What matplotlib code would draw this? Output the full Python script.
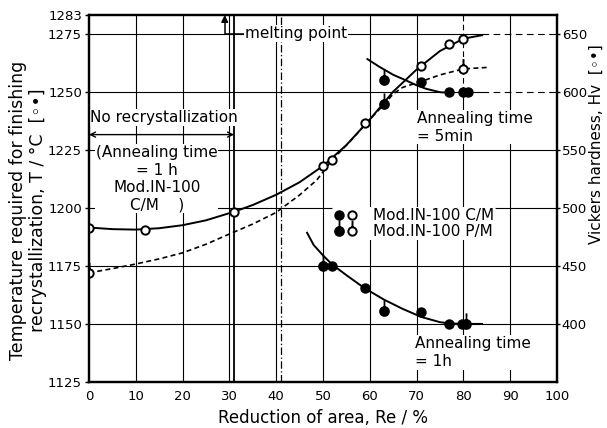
import matplotlib
matplotlib.use("Agg")
import matplotlib.pyplot as plt
import numpy as np
from matplotlib.path import Path
from matplotlib.lines import Line2D
from matplotlib.legend_handler import HandlerTuple

plt.rcParams['font.family'] = ['DejaVu Sans']

# ---------------- data ----------------
x_ticks = [0, 10, 20, 30, 40, 50, 60, 70, 80, 90, 100]
t_ticks = [1125, 1150, 1175, 1200, 1225, 1250, 1275, 1283]
hv_ticks = [400, 450, 500, 550, 600, 650]
x_grid = [10, 20, 30, 40, 50, 60, 70, 80, 90]
t_grid = [1150, 1175, 1200, 1225, 1250, 1275]

# recrystallization temperature, C/M (open circles, solid curve)
temp_cm_x = [0, 12, 31, 50, 52, 59, 71, 77, 80]
temp_cm_T = [1191.5, 1190.5, 1198.3, 1218, 1220.7, 1236.6, 1261, 1270.7, 1272.8]
curve_cm_x = [0, 5, 10, 15, 20, 25, 31, 35, 40, 45, 50, 55, 60, 65, 70, 75, 80, 84]
curve_cm_T = [1191.5, 1190.8, 1190.6, 1191.2, 1192.5, 1194.6, 1198.3, 1201.2, 1205.6,
              1211, 1218, 1227, 1238, 1250, 1259.5, 1267.5, 1272.8, 1274.3]

# recrystallization temperature, P/M (open circles with stem, dashed curve)
temp_pm_x = [0, 80]
temp_pm_T = [1172, 1259.8]
curve_pm_x = [0, 5, 10, 15, 20, 25, 30, 35, 40, 45, 48.7, 52, 56, 60, 63, 65, 67, 71, 75, 80, 85]
curve_pm_T = [1172, 1173.8, 1175.8, 1178, 1180.6, 1184.3, 1188.7, 1193, 1198, 1205.5, 1212,
              1220.7, 1229, 1238, 1244.4, 1249, 1251.8, 1254.4, 1257.2, 1259.8, 1260.4]

# Vickers hardness, annealing time 5 min
hv5_cm_x = [71, 77, 80, 81]
hv5_cm_H = [608, 600, 600, 600]
hv5_pm_x = [63, 63]
hv5_pm_H = [610, 589]
hv5_curve_x = [59.5, 62, 65, 67, 70, 72, 75, 77]
hv5_curve_H = [628, 621.5, 614.5, 611, 605.5, 602.5, 599.5, 599]

# Vickers hardness, annealing time 1 h
hv1_cm_x = [52, 59, 71, 77, 79.7]
hv1_cm_H = [450, 431, 410, 400, 400]
hv1_pm_x = [50, 63, 80.5]
hv1_pm_H = [450, 411, 400]
hv1_curve_x = [46.6, 48, 50, 52, 55, 58.8, 63, 67, 71, 75, 77, 80, 84]
hv1_curve_H = [478.5, 468, 459, 451, 442, 431, 421, 413, 406, 401.5, 400.5, 400, 400]

melting_T = 1275
no_recryst_limit = 31
dashdot_limit = 41

# ---------------- figure ----------------
fig = plt.figure(figsize=(6.07, 4.28), dpi=100)
ax = fig.add_axes([0.1466, 0.1075, 0.7710, 0.8575])
ax.set_xlim(0, 100)
ax.set_ylim(1125, 1283)
ax2 = ax.twinx()
ax2.set_ylim(2 * 1125 - 1900, 2 * 1283 - 1900)

# stemmed circle marker (circle with a short vertical stem on top)
circ = Path.unit_circle()
stem = Path([[0, 1], [0, 2.5]], [Path.MOVETO, Path.LINETO])
stem_marker = Path.make_compound_path(circ, stem)

gl = dict(color='black', lw=0.8, zorder=1)
cut = (1250 - 1125) / (1283 - 1125)
for xv in x_grid:
    if xv == 80:
        ax.axvline(xv, ymax=cut, **gl)
        ax.axvline(xv, ymin=cut, ls=(0, (5, 3)), **gl)
    else:
        ax.axvline(xv, **gl)
for tv in t_grid:
    if tv in (1250, 1275):
        ax.axhline(tv, xmax=0.84, **gl)
        ax.axhline(tv, xmin=0.84, ls=(0, (6, 4)), **gl)
    else:
        ax.axhline(tv, **gl)
ax.axvline(no_recryst_limit, color='black', lw=1.3, zorder=1)
ax.axvline(dashdot_limit, color='black', lw=0.9, ls=(0, (6, 2, 1, 2)), zorder=1)

# curves
ax.plot(curve_cm_x, curve_cm_T, color='black', lw=1.4, zorder=4)
ax.plot(curve_pm_x, curve_pm_T, color='black', lw=1.2, ls=(0, (3, 2)), zorder=4)
ax.plot(temp_cm_x, temp_cm_T, ls='none', marker='o', ms=6, mfc='white', mec='black', mew=1.4, zorder=5)
ax.plot(temp_pm_x, temp_pm_T, ls='none', marker=stem_marker, ms=15, mfc='white', mec='black', mew=1.4, zorder=5)

ax2.plot(hv5_curve_x, hv5_curve_H, color='black', lw=1.4, zorder=4)
ax2.plot(hv1_curve_x, hv1_curve_H, color='black', lw=1.4, zorder=4)
ax2.plot(hv5_cm_x, hv5_cm_H, ls='none', marker='o', ms=6.5, mfc='black', mec='black', zorder=5)
ax2.plot(hv1_cm_x, hv1_cm_H, ls='none', marker='o', ms=6.5, mfc='black', mec='black', zorder=5)
ax2.plot(hv5_pm_x, hv5_pm_H, ls='none', marker=stem_marker, ms=16, mfc='black', mec='black', mew=1.3, zorder=5)
ax2.plot(hv1_pm_x, hv1_pm_H, ls='none', marker=stem_marker, ms=16, mfc='black', mec='black', mew=1.3, zorder=5)

# axes styling
fs = 9.5
ax.set_xticks(x_ticks)
ax.set_yticks(t_ticks)
ax.set_yticklabels([str(t) for t in t_ticks], fontsize=fs)
ax.set_xticklabels([str(x) for x in x_ticks], fontsize=fs)
ax.tick_params(axis='x', length=0, pad=6)
ax.tick_params(axis='y', length=3, width=1, pad=2)
ax2.set_yticks(hv_ticks)
ax2.set_yticklabels([str(h) for h in hv_ticks], fontsize=fs)
ax2.tick_params(axis='y', length=2, width=1, pad=1.5)
for a in (ax, ax2):
    for s in a.spines.values():
        s.set_linewidth(1.6)

ax.set_xlabel('Reduction of area, Re / %', fontsize=12, labelpad=4)
fig.text(28 / 607, 1 - 210 / 428,
         'Temperature required for finishing\nrecrystallization, T / °C  [◦•]',
         fontsize=12.5, rotation=90, ha='center', va='center', multialignment='center',
         linespacing=1.15)
fig.text(596 / 607, 1 - 144 / 428, 'Vickers hardness, Hv  [◦•]', fontsize=11,
         rotation=90, ha='center', va='center')

tfs = 11
wb = dict(facecolor='white', edgecolor='none', pad=0.5)

# melting point
ax.annotate('melting point', xy=(29, 1283), xytext=(33.3, melting_T), fontsize=tfs,
            va='center', ha='left', bbox=wb, zorder=3,
            arrowprops=dict(arrowstyle='-|>', color='black', lw=1.1, shrinkA=0, shrinkB=0,
                            connectionstyle='angle,angleA=0,angleB=90,rad=0', mutation_scale=10))

# No recrystallization
ax.text(0.3, 1238.8, 'No recrystallization', fontsize=tfs, va='center', ha='left', bbox=wb, zorder=3)
ax.annotate('', xy=(0, 1231.5), xytext=(no_recryst_limit, 1231.5),
            arrowprops=dict(arrowstyle='<->', color='black', lw=1.0, shrinkA=0, shrinkB=0,
                            mutation_scale=9), zorder=3)
ax.text(14.5, 1212.5, '(Annealing time\n= 1 h\nMod.IN-100\nC/M    )', fontsize=tfs,
        ha='center', va='center', multialignment='center', linespacing=1.2, bbox=wb, zorder=3)

ax.text(70, 1234.7, 'Annealing time\n= 5min', fontsize=tfs, ha='left', va='center',
        linespacing=1.25, bbox=wb, zorder=3)
ax.text(69.7, 1137.7, 'Annealing time\n= 1h', fontsize=tfs, ha='left', va='center',
        linespacing=1.25, bbox=wb, zorder=3)

# legend
h_cm_f = Line2D([], [], ls='none', marker='o', ms=6.5, mfc='black', mec='black')
h_cm_o = Line2D([], [], ls='none', marker='o', ms=6, mfc='white', mec='black', mew=1.4)
h_pm_f = Line2D([], [], ls='none', marker=stem_marker, ms=16, mfc='black', mec='black', mew=1.3)
h_pm_o = Line2D([], [], ls='none', marker=stem_marker, ms=15, mfc='white', mec='black', mew=1.4)
leg = ax2.legend([(h_cm_f, h_cm_o), (h_pm_f, h_pm_o)], ['Mod.IN-100 C/M', 'Mod.IN-100 P/M'],
                 handler_map={tuple: HandlerTuple(ndivide=None, pad=0.1)},
                 loc='upper left', bbox_to_anchor=(0.5185, 0.478), frameon=True,
                 fontsize=tfs, handlelength=1.6, handletextpad=1.0, labelspacing=0.05,
                 borderpad=0.1, borderaxespad=0)
leg.get_frame().set_facecolor('white')
leg.get_frame().set_edgecolor('none')
leg.get_frame().set_alpha(1)

fig.savefig('out.png', dpi=100)
